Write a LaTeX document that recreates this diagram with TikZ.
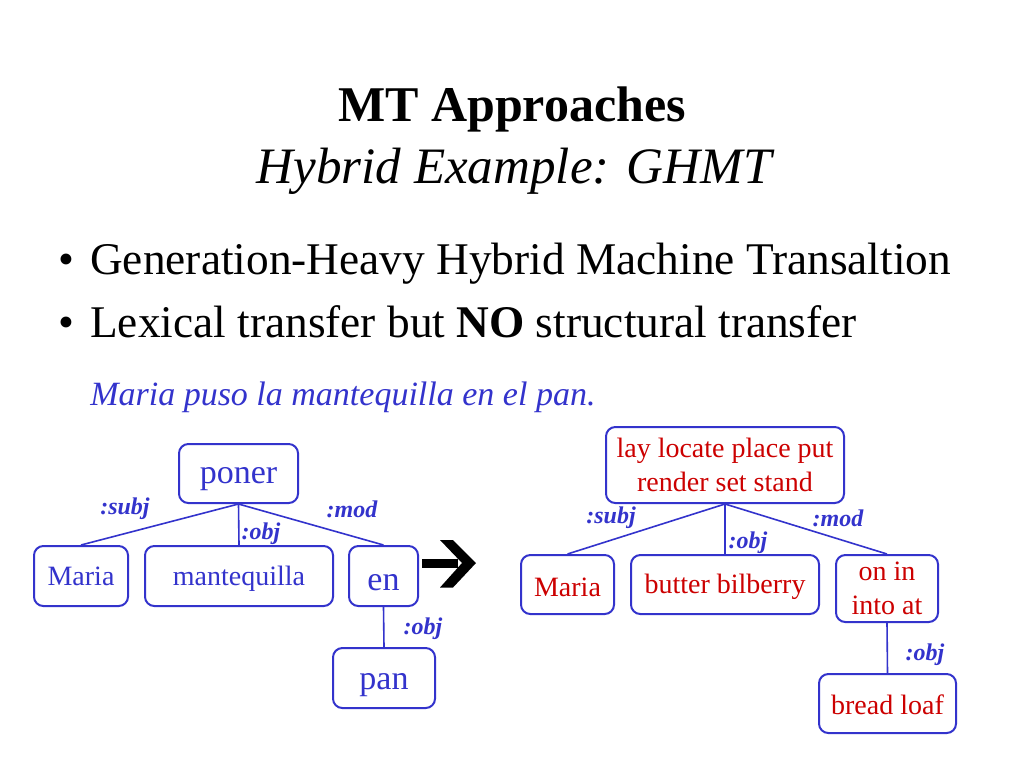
\documentclass[tikz,border=0pt]{standalone}
\usepackage{fontspec}
\setmainfont{Liberation Serif}
\definecolor{myblue}{RGB}{51,51,204}
\definecolor{myred}{RGB}{204,0,0}
\newcommand{\shiftdown}[2]{\raisebox{-#1}[\height][\depth]{#2}}
\tikzset{
  box/.style={draw=myblue, line width=1.5pt, rounded corners=7pt, inner sep=0pt, align=center},
  bigtxt/.style={text=myblue, font=\fontsize{25.5}{28}\selectfont},
  midtxt/.style={text=myblue, font=\fontsize{21}{25}\selectfont},
  redtxt/.style={text=myred, font=\fontsize{21}{26}\selectfont},
  lbl/.style={text=myblue, font=\fontsize{18}{20}\selectfont\bfseries\itshape, inner sep=0pt},
  edge/.style={draw=myblue, line width=1.2pt},
}
\begin{document}
\begin{tikzpicture}[x=0.75pt,y=-0.75pt]
\fill[white] (0,0) rectangle (1024,768);
\useasboundingbox (0,0) rectangle (1024,768);

% title
\node[anchor=base, font=\fontsize{37.5}{40}\selectfont\bfseries, inner sep=0pt] (title) at (512,121) {MT Approaches};
\node[anchor=base, font=\fontsize{38.3}{40}\selectfont\itshape, inner sep=0pt] (subtitle) at (514,183) {Hybrid Example: GHMT};

% bullets
\node[anchor=base west, font=\fontsize{34}{40}\selectfont, inner sep=0pt] (b1dot) at (58,274) {•};
\node[anchor=base west, font=\fontsize{34}{40}\selectfont, inner sep=0pt] (b1) at (90,274) {Generation-Heavy Hybrid Machine Transaltion};
\node[anchor=base west, font=\fontsize{34}{40}\selectfont, inner sep=0pt] (b2dot) at (58,337) {•};
\node[anchor=base west, font=\fontsize{34}{40}\selectfont, inner sep=0pt] (b2) at (90,337) {Lexical transfer but \textbf{NO} structural transfer};

% sentence
\node[anchor=base west, text=myblue, font=\fontsize{25.5}{28}\selectfont\itshape, inner sep=0pt] (sent) at (90,405) {Maria puso la mantequilla en el pan.};

% left tree
\node[box, bigtxt, minimum width=89.25pt, minimum height=44.25pt] (poner) at (238.5,473.5) {\shiftdown{4pt}{poner}};
\node[box, midtxt, minimum width=70.5pt, minimum height=45pt] (lmaria) at (81,576) {Maria};
\node[box, midtxt, minimum width=141pt, minimum height=45pt] (mant) at (239,576) {\shiftdown{2pt}{mantequilla}};
\node[box, bigtxt, minimum width=51.75pt, minimum height=45pt] (en) at (383.5,576) {\shiftdown{5pt}{en}};
\node[box, bigtxt, minimum width=76.5pt, minimum height=45pt] (pan) at (384,678) {\shiftdown{5pt}{pan}};

\draw[edge] (poner.south) -- (lmaria.north);
\draw[edge] (poner.south) -- (mant.north);
\draw[edge] (poner.south) -- (en.north);
\draw[edge] (en.south) -- (pan.north);

\node[lbl] (ls1) at (125,509) {:subj};
\node[lbl] (ls2) at (352,509) {:mod};
\node[lbl] (ls3) at (261,534) {:obj};
\node[lbl] (ls4) at (423,629) {:obj};

% big arrow
\fill[black] (422,558.5) rectangle (458,568);
\fill[black] (440,540) -- (453,540) -- (476,563) -- (453,587.5) -- (440,587.5) -- (462,563) -- cycle;

% right tree
\node[box, redtxt, minimum width=178.5pt, minimum height=57pt] (rtop) at (725,465) {lay locate place put\\render set stand};
\node[box, redtxt, minimum width=69.75pt, minimum height=44.25pt] (rmaria) at (567.5,584.5) {\shiftdown{2pt}{Maria}};
\node[box, redtxt, minimum width=141pt, minimum height=44.25pt] (butter) at (725,584.5) {\shiftdown{2pt}{butter bilberry}};
\node[box, redtxt, minimum width=76.5pt, minimum height=50.25pt] (onin) at (887,588.5) {on in\\into at};
\node[box, redtxt, minimum width=102.75pt, minimum height=44.25pt] (bread) at (887.5,703.5) {\shiftdown{1pt}{bread loaf}};

\draw[edge] (rtop.south) -- (rmaria.north);
\draw[edge] (rtop.south) -- (butter.north);
\draw[edge] (rtop.south) -- (onin.north);
\draw[edge] (onin.south) -- (bread.north);

\node[lbl] (rs1) at (611,518) {:subj};
\node[lbl] (rs2) at (838,518) {:mod};
\node[lbl] (rs3) at (748,543) {:obj};
\node[lbl] (rs4) at (925,655) {:obj};
\end{tikzpicture}
\end{document}
